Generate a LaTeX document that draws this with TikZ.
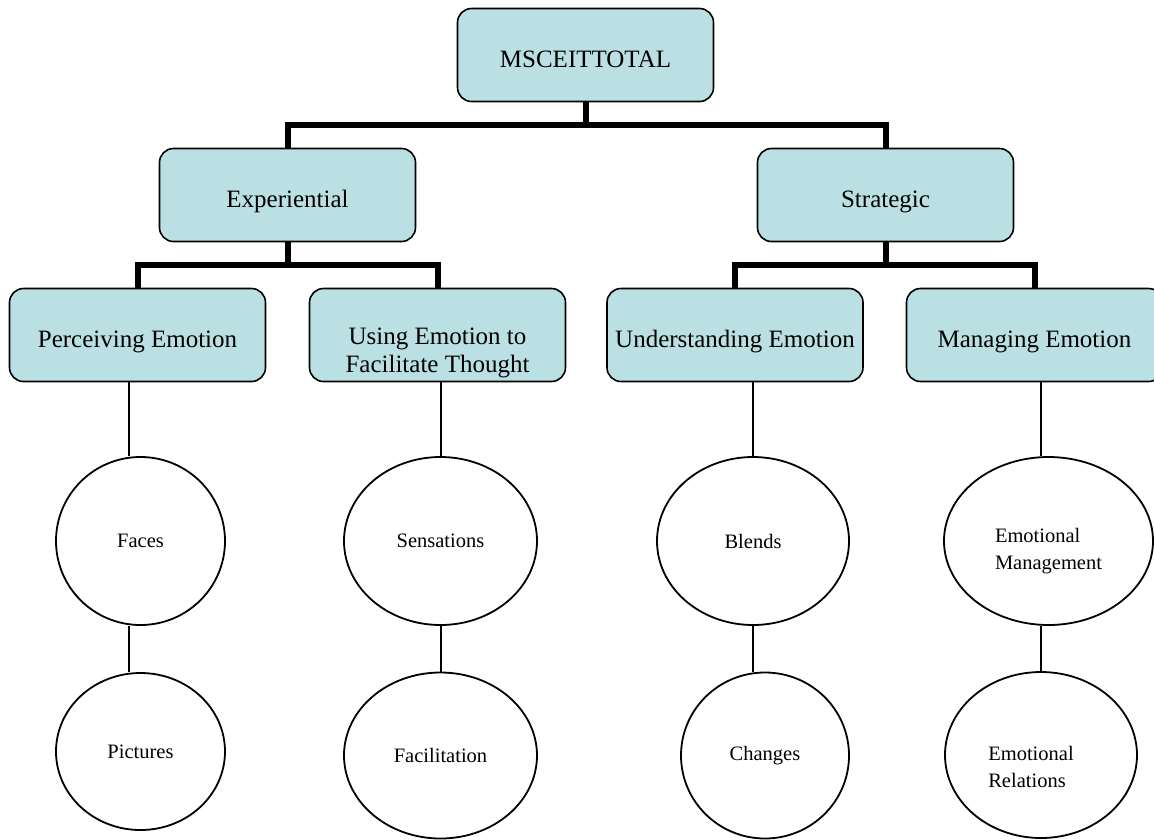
\documentclass[tikz,border=0pt]{standalone}
\usepackage{fontspec}
\setmainfont{Liberation Serif}
\usetikzlibrary{shapes.geometric}

\definecolor{boxfill}{RGB}{187,224,227}

\begin{document}
\begin{tikzpicture}[x=1pt,y=-1pt,
  box/.style={draw,rounded corners=14pt,fill=boxfill,line width=1.6pt,minimum width=256pt,minimum height=93pt,inner sep=0pt,text height=30pt,text depth=5.4pt,font=\fontsize{25}{29}\selectfont,align=center},
  boxtext/.style={font=\fontsize{25}{28}\selectfont,align=center},
  bubble/.style={draw,ellipse,line width=1.8pt,inner sep=0pt,minimum height=168pt,font=\fontsize{20.5}{27}\selectfont,align=center},
  bubbletext/.style={font=\fontsize{20.5}{27}\selectfont,align=left},
  tree/.style={line width=6pt,line join=miter},
  link/.style={line width=1.8pt}]

\useasboundingbox (0,0) rectangle (1154,839);
\clip (0,0) rectangle (1154,839);

% boxes
\node[box] (total) at (585.5,55) {MSCEITTOTAL};
\node[box] (exper) at (287.5,195) {Experiential};
\node[box] (strat) at (885.5,195) {Strategic};
\node[box] (perc) at (137.5,335) {Perceiving Emotion};
\node[box,label={[boxtext,yshift=-18pt]center:Using Emotion to\\Facilitate Thought}] (using) at (437.5,335) {};
\node[box] (under) at (735,335) {Understanding Emotion};
\node[box] (manag) at (1034.5,335) {Managing Emotion};

% branches
\coordinate (bar1) at (585.5,125);
\coordinate (bar2) at (287.5,265);
\coordinate (bar3) at (885.5,265);
\draw[tree] (total.south) -- (bar1);
\draw[tree] (exper.north) |- (bar1) -| (strat.north);
\draw[tree] (exper.south) -- (bar2);
\draw[tree] (perc.north) |- (bar2) -| (using.north);
\draw[tree] (strat.south) -- (bar3);
\draw[tree] (under.north) |- (bar3) -| (manag.north);

% subtests
\node[bubble,minimum width=169pt] (faces) at (140.5,541) {Faces};
\node[bubble,minimum width=169pt,minimum height=157pt] (pict) at (140.5,751.5) {Pictures};
\node[bubble,minimum width=193pt] (sens) at (440.5,541) {Sensations};
\node[bubble,minimum width=193pt,minimum height=166pt] (facil) at (440.5,755.5) {Facilitation};
\node[bubble,minimum width=192pt] (blends) at (753,541) {Blends};
\node[bubble,minimum width=168pt,minimum height=166pt] (changes) at (765,755.5) {Changes};
\node[bubble,minimum width=209pt,label={[bubbletext,yshift=-10pt]center:Emotional\\Management}] (emman) at (1048.5,541) {};
\node[bubble,minimum width=192pt,minimum height=166pt,label={[bubbletext,xshift=-10pt,yshift=-12pt]center:Emotional\\Relations}] (emrel) at (1041,755) {};

% links
\coordinate (col1) at (129,0);
\coordinate (col2) at (441,0);
\coordinate (col3) at (753,0);
\coordinate (col4) at (1041,0);
\draw[link] (perc.south -| col1) -- (faces.north -| col1);
\draw[link] (faces.south -| col1) -- (pict.north -| col1);
\draw[link] (using.south -| col2) -- (sens.north -| col2);
\draw[link] (sens.south -| col2) -- (facil.north -| col2);
\draw[link] (under.south -| col3) -- (blends.north -| col3);
\draw[link] (blends.south -| col3) -- (changes.north -| col3);
\draw[link] (manag.south -| col4) -- (emman.north -| col4);
\draw[link] (emman.south -| col4) -- (emrel.north -| col4);

\end{tikzpicture}
\end{document}
